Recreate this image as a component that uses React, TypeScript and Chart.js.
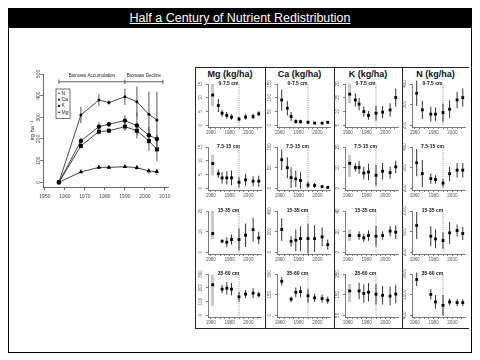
import { useEffect, useRef } from "react";
import { Chart, registerables } from "chart.js";

Chart.register(...registerables);

const FONT = "'Liberation Sans', 'DejaVu Sans', Arial, sans-serif";

// ---------------- Left chart: nutrients in tree biomass ----------------
const BIO_YEARS = [1957, 1968, 1977, 1982, 1990, 1996, 2002, 2006];
const BIO_N = [0, 311, 380, 368, 395, 372, 314, 288];
const BIO_N_ERR = [0, 38, 27, 10, 38, 70, 105, 130];
const BIO_CA = [0, 191, 257, 268, 285, 262, 217, 200];
const BIO_CA_ERR = [0, 15, 20, 12, 25, 60, 40, 20];
const BIO_K = [0, 168, 234, 238, 257, 238, 191, 152];
const BIO_K_ERR = [0, 12, 15, 12, 20, 20, 45, 55];
const BIO_MG = [0, 48, 69, 69, 72, 68, 52, 49];
const BIO_MG_ERR = [0, 5, 5, 4, 6, 10, 12, 14];
const BIO_Y_TICKS = [0, 100, 200, 300, 400, 500];
const BIO_X_TICKS = [1950, 1960, 1970, 1980, 1990, 2000, 2010];
const PHASES = ["Biomass Accumulation", "Biomass Decline"];
const PHASE_BOUNDS = [1957, 1990, 2009];
const BRACKET_LEVEL = 464;

// ---------------- Right grid: soil nutrients by depth ----------------
const SOIL_YEARS = [1962, 1968, 1972, 1977, 1982, 1990, 1997, 2005, 2011];
const NUTRIENTS = ["Mg (kg/ha)", "Ca (kg/ha)", "K (kg/ha)", "N (kg/ha)"];
const DEPTHS = ["0-7.5 cm", "7.5-15 cm", "15-35 cm", "35-60 cm"];
const SOIL_X_TICKS = [1960, 1965, 1970, 1975, 1980, 1985, 1990, 1995, 2000, 2005, 2010];
const SOIL_X_LABELS = [1960, 1980, 2000];
const HARVEST_YEAR = 1990;

const MG_0 = [11.0, 7.2, 4.4, 3.6, 3.0, 2.3, 3.0, 3.2, 4.2];
const MG_0_ERR = [0, 2.4, 1.3, 1.2, 1.0, 0.8, 1.0, 1.0, 0.9];
const MG_0_RANGE = [6.8, 15];
const MG_0_TICKS = [0, 5, 10, 15];
const MG_1 = [9.0, 5.3, 3.8, 3.8, 3.8, 2.2, 3.1, 2.6, 2.6];
const MG_1_ERR = [0, 1.5, 2.0, 2.4, 2.7, 1.8, 2.2, 1.8, 2.0];
const MG_1_RANGE = [4.7, 12.1];
const MG_1_TICKS = [0, 5, 10, 15];
const MG_2 = [9.1, null, 5.4, 4.9, 6.2, 6.2, 8.3, 11.0, 7.0];
const MG_2_ERR = [0, 0, 0.8, 2.4, 2.4, 5.3, 5.7, 5.7, 3.0];
const MG_2_RANGE = [6.2, 20];
const MG_2_TICKS = [0, 10, 20];
const MG_3 = [222, null, 190, 197, 190, 134, 154, 161, 149];
const MG_3_ERR = [0, 0, 30, 45, 45, 35, 30, 35, 20];
const MG_3_RANGE = [68, 295];
const MG_3_TICKS = [0, 100, 200, 300];

const CA_0 = [92, 62, 32, 14, 13, 11, 8, 8, 11];
const CA_0_ERR = [38, 26, 16, 8, 7, 5, 4, 4, 4];
const CA_0_TICKS = [0, 50, 100, 150];
const CA_1 = [69, 50, 26, 23, 19, 8, 7, 4, 2.5];
const CA_1_ERR = [25, 25, 25, 20, 20, 8, 6, 4, 3];
const CA_1_TICKS = [0, 50, 100];
const CA_2 = [221, null, 107, 117, 133, 133, 133, 150, 75];
const CA_2_ERR = [110, 0, 50, 105, 120, 143, 130, 90, 50];
const CA_2_TICKS = [0, 200, 400];
const CA_3 = [247, null, 117, 167, 172, 142, 127, 122, 110];
const CA_3_ERR = [30, 0, 20, 35, 40, 50, 30, 30, 25];
const CA_3_TICKS = [0, 150, 300];

const K_0 = [16.3, 14.2, 12.7, 10.0, 8.6, 9.4, 9.8, 10.6, 15.1];
const K_0_ERR = [0, 2.4, 2.2, 1.8, 1.6, 2.7, 2.2, 2.4, 3.3];
const K_0_RANGE = [13, 20.2];
const K_0_TICKS = [5, 10, 15, 20];
const K_1 = [12.1, 10.1, 10.1, 7.4, 7.9, 6.3, 8.3, 7.6, 10.4];
const K_1_ERR = [0, 2, 3, 3, 4, 5, 4, 3, 3];
const K_1_RANGE = [5.5, 16.3];
const K_1_TICKS = [0, 10, 20];
const K_2 = [16.3, null, 16.3, 14, 16.3, 15.6, 16.3, 20.5, 19.5];
const K_2_ERR = [0, 0, 4, 4, 5, 10, 4, 5, 6.5];
const K_2_RANGE = [10.7, 22];
const K_2_TICKS = [0, 20, 40];
const K_3 = [168, null, 168, 156, 162, 152, 147, 143, 153];
const K_3_ERR = [0, 0, 40, 45, 45, 50, 45, 45, 45];
const K_3_RANGE = [115, 200];
const K_3_TICKS = [50, 150, 250];

const N_0 = [355, 275, null, 254, 254, 262, 278, 323, 334];
const N_0_ERR = [62, 44, 0, 36, 32, 44, 44, 40, 44];
const N_0_TICKS = [200, 300, 400];
const N_1 = [324, 271, null, 247, 243, 225, 271, 288, 288];
const N_1_ERR = [66, 66, 0, 25, 20, 20, 35, 35, 35];
const N_1_TICKS = [200, 300, 400];
const N_2 = [720, null, null, 512, 460, 428, 577, 623, 564];
const N_2_ERR = [260, 0, 0, 195, 180, 160, 210, 115, 125];
const N_2_TICKS = [200, 600, 1000];
const N_3 = [1441, null, null, 1009, 790, 691, 790, 770, 770];
const N_3_ERR = [200, 0, 0, 150, 200, 300, 100, 100, 100];
const N_3_TICKS = [400, 1000, 1600];

// table built from the arrays above: [nutrient column][depth row]
const PANELS: any[][] = [
  [
    { vals: MG_0, errs: MG_0_ERR, ticks: MG_0_TICKS, range: MG_0_RANGE },
    { vals: MG_1, errs: MG_1_ERR, ticks: MG_1_TICKS, range: MG_1_RANGE },
    { vals: MG_2, errs: MG_2_ERR, ticks: MG_2_TICKS, range: MG_2_RANGE },
    { vals: MG_3, errs: MG_3_ERR, ticks: MG_3_TICKS, range: MG_3_RANGE },
  ],
  [
    { vals: CA_0, errs: CA_0_ERR, ticks: CA_0_TICKS },
    { vals: CA_1, errs: CA_1_ERR, ticks: CA_1_TICKS },
    { vals: CA_2, errs: CA_2_ERR, ticks: CA_2_TICKS },
    { vals: CA_3, errs: CA_3_ERR, ticks: CA_3_TICKS },
  ],
  [
    { vals: K_0, errs: K_0_ERR, ticks: K_0_TICKS, range: K_0_RANGE },
    { vals: K_1, errs: K_1_ERR, ticks: K_1_TICKS, range: K_1_RANGE },
    { vals: K_2, errs: K_2_ERR, ticks: K_2_TICKS, range: K_2_RANGE },
    { vals: K_3, errs: K_3_ERR, ticks: K_3_TICKS, range: K_3_RANGE },
  ],
  [
    { vals: N_0, errs: N_0_ERR, ticks: N_0_TICKS },
    { vals: N_1, errs: N_1_ERR, ticks: N_1_TICKS },
    { vals: N_2, errs: N_2_ERR, ticks: N_2_TICKS },
    { vals: N_3, errs: N_3_ERR, ticks: N_3_TICKS },
  ],
];

// ---------------- layout ----------------
const COL_LEFT = [195, 265, 334, 402];
const COL_RIGHT = [265, 334, 402, 469];
const AXIS_X = [208, 276.5, 345, 412];
const ROW_TOP = [77, 140.3, 203.6, 266.9];
const GRID_TOP = 67;
const GRID_BOTTOM = 328;
const PANEL_W = 69;
const PANEL_H = 60;
const AXIS_GAP = 12;

function drawSymbol(ctx: CanvasRenderingContext2D, style: string, x: number, y: number, r: number) {
  ctx.beginPath();
  if (style === "rect") {
    ctx.rect(x - r, y - r, 2 * r, 2 * r);
  } else if (style === "triangle") {
    ctx.moveTo(x, y - r * 1.2);
    ctx.lineTo(x + r * 1.1, y + r * 0.8);
    ctx.lineTo(x - r * 1.1, y + r * 0.8);
    ctx.closePath();
  } else {
    ctx.arc(x, y, r, 0, Math.PI * 2);
  }
  ctx.fill();
}

const legendBoxPlugin = {
  id: "legendBox",
  afterDraw(chart: any) {
    const { ctx, chartArea } = chart;
    const x0 = chartArea.left + 12.7;
    const y0 = chartArea.top + 15;
    ctx.save();
    ctx.strokeStyle = "#333";
    ctx.lineWidth = 0.7;
    ctx.strokeRect(x0, y0, 14, 29.5);
    const items = chart.data.datasets.filter((d: any) => d.type === "line" && !String(d.label).startsWith("_"));
    ctx.font = `5px ${FONT}`;
    ctx.textBaseline = "middle";
    ctx.textAlign = "left";
    ctx.fillStyle = "#222";
    items.forEach((d: any, i: number) => {
      const cy = y0 + 4.3 + i * 6.3;
      const r = d.pointStyle === "circle" ? (i === 0 ? 0.8 : 1.1) : 1.1;
      drawSymbol(ctx, d.pointStyle, x0 + 3, cy, r);
      ctx.fillText(d.label, x0 + 5.6, cy);
    });
    ctx.restore();
  },
};

const phaseLabelPlugin = {
  id: "phaseLabels",
  afterDatasetsDraw(chart: any) {
    const { ctx } = chart;
    const xs = chart.scales.x;
    const ys = chart.scales.y;
    ctx.save();
    ctx.font = `4.6px ${FONT}`;
    ctx.textAlign = "center";
    ctx.textBaseline = "middle";
    ctx.fillStyle = "#222";
    PHASES.forEach((p, i) => {
      const cx = xs.getPixelForValue((PHASE_BOUNDS[i] + PHASE_BOUNDS[i + 1]) / 2);
      ctx.fillText(p, cx, ys.getPixelForValue(BRACKET_LEVEL + 26));
    });
    ctx.restore();
  },
};

function errorBarData(years: number[], vals: any[], errs: number[]) {
  const out: any[] = [];
  years.forEach((x, i) => {
    const v = vals[i];
    const e = errs[i];
    if (v == null || !e) return;
    out.push({ x, y: [v - e, v + e] });
  });
  return out;
}

function biomassConfig(): any {
  const series = [
    { label: "N", vals: BIO_N, errs: BIO_N_ERR, style: "circle", r: 1.5 },
    { label: "Ca", vals: BIO_CA, errs: BIO_CA_ERR, style: "circle", r: 2.2 },
    { label: "K", vals: BIO_K, errs: BIO_K_ERR, style: "rect", r: 2.8 },
    { label: "Mg", vals: BIO_MG, errs: BIO_MG_ERR, style: "triangle", r: 2.6 },
  ];
  const cap = 10;
  const [b0, b1, b2] = PHASE_BOUNDS;
  const bracket = [
    { x: b0, y: BRACKET_LEVEL - cap }, { x: b0, y: BRACKET_LEVEL + cap }, { x: b0, y: null },
    { x: b0, y: BRACKET_LEVEL }, { x: b2, y: BRACKET_LEVEL }, { x: b2, y: null },
    { x: b1, y: BRACKET_LEVEL - cap }, { x: b1, y: BRACKET_LEVEL + cap }, { x: b1, y: null },
    { x: b2, y: BRACKET_LEVEL - cap }, { x: b2, y: BRACKET_LEVEL + cap },
  ];
  const datasets: any[] = [
    {
      type: "line", label: "_bracket", data: bracket, borderColor: "#333", borderWidth: 0.8,
      pointRadius: 0, spanGaps: false, order: 6, clip: false,
    },
  ];
  series.forEach((s) => {
    datasets.push({
      type: "bar", label: "_err", data: errorBarData(BIO_YEARS, s.vals, s.errs),
      backgroundColor: "#555", barThickness: 1, maxBarThickness: 1, inflateAmount: 0,
      grouped: false, order: 5, clip: false,
    });
  });
  series.forEach((s) => {
    datasets.push({
      type: "line", label: s.label, data: BIO_YEARS.map((x, i) => ({ x, y: s.vals[i] })),
      borderColor: "#333", borderWidth: 0.9, pointStyle: s.style, pointRadius: s.r,
      pointBackgroundColor: "#000", pointBorderColor: "#000", pointBorderWidth: 0, order: 1, clip: false,
    });
  });
  return {
    type: "scatter",
    data: { datasets },
    plugins: [legendBoxPlugin, phaseLabelPlugin],
    options: {
      animation: false,
      responsive: false,
      devicePixelRatio: 1,
      layout: { padding: { top: 8, right: 4.3, bottom: 0, left: 0 } },
      plugins: { legend: { display: false }, tooltip: { enabled: false } },
      scales: {
        x: {
          type: "linear", min: 1949.2, max: 2012, offset: false,
          grid: { drawOnChartArea: false, tickLength: 3, color: "#444", lineWidth: 0.8, offset: false },
          border: { color: "#444", width: 0.8 },
          ticks: {
            autoSkip: false, maxRotation: 0, font: { family: FONT, size: 5 }, color: "#444", padding: 3.4,
            callback: (v: any) => String(v),
          },
          afterBuildTicks: (s: any) => { s.ticks = BIO_X_TICKS.map((v) => ({ value: v })); },
          afterFit: (s: any) => { s.height = 18.7; },
        },
        y: {
          type: "linear", min: -23, max: 500, beginAtZero: false,
          grid: { drawOnChartArea: false, tickLength: 3, color: "#444", lineWidth: 0.8 },
          border: { color: "#444", width: 0.8 },
          ticks: {
            autoSkip: false, minRotation: 90, maxRotation: 90, crossAlign: "center",
            font: { family: FONT, size: 5 }, color: "#444", padding: -2.2,
            callback: (v: any) => String(v),
          },
          title: { display: true, text: "kg ha\u207B\u00B9", font: { family: FONT, size: 6 }, color: "#333", padding: { top: 4.4, bottom: 0 } },
          afterBuildTicks: (s: any) => { s.ticks = BIO_Y_TICKS.map((v) => ({ value: v })); },
          afterFit: (s: any) => { s.width = 19.3; },
        },
      },
    },
  };
}

function soilConfig(title: string, p: any): any {
  const ticks: number[] = p.ticks;
  const t0 = ticks[0];
  const t1 = ticks[ticks.length - 1];
  const span = t1 - t0;
  const fs = 4.6;
  const maxLen = Math.max(...ticks.map((t) => String(t).length));
  const yPad = 5.5 - (maxLen * 0.556 * fs) / 2;
  const pts: any[] = [];
  SOIL_YEARS.forEach((x, i) => {
    if (p.vals[i] != null) pts.push({ x, y: p.vals[i] });
  });
  const datasets: any[] = [
    {
      type: "line", data: [{ x: HARVEST_YEAR, y: t0 }, { x: HARVEST_YEAR, y: t1 }],
      borderColor: "#777", borderWidth: 0.8, borderDash: [1, 1.2], pointRadius: 0, order: 5, clip: false,
    },
  ];
  if (p.range) {
    datasets.push({
      type: "bar", data: [{ x: SOIL_YEARS[0], y: p.range }], backgroundColor: "#c8c8c8",
      borderColor: "#8a8a8a", borderWidth: 0.6, barThickness: 3, maxBarThickness: 3, inflateAmount: 0,
      grouped: false, order: 4, clip: false,
    });
  }
  datasets.push({
    type: "bar", data: errorBarData(SOIL_YEARS, p.vals, p.errs), backgroundColor: "#333",
    barThickness: 1, maxBarThickness: 1, inflateAmount: 0, grouped: false, order: 3, clip: false,
  });
  datasets.push({
    type: "scatter", data: pts, pointStyle: "rect", pointRadius: 2, backgroundColor: "#000",
    borderWidth: 0, order: 1, clip: false,
  });
  return {
    type: "scatter",
    data: { datasets },
    options: {
      animation: false,
      responsive: false,
      devicePixelRatio: 1,
      layout: { padding: { top: 0, right: 4, bottom: 0, left: 0 } },
      plugins: {
        legend: { display: false },
        tooltip: { enabled: false },
        title: {
          display: true, text: title, color: "#111",
          font: { family: FONT, size: 5, weight: "bold" }, padding: { top: 4, bottom: -3 },
        },
      },
      scales: {
        x: {
          type: "linear", min: 1957, max: 2013.4, offset: false,
          grid: { drawOnChartArea: false, tickLength: 2, color: "#444", lineWidth: 0.7, offset: false },
          border: { color: "#444", width: 0.7 },
          ticks: {
            autoSkip: false, maxRotation: 0, font: { family: FONT, size: fs }, color: "#555", padding: 0.8,
            callback: (v: any) => (SOIL_X_LABELS.includes(v) ? String(v) : ""),
          },
          afterBuildTicks: (s: any) => { s.ticks = SOIL_X_TICKS.map((v) => ({ value: v })); },
          afterFit: (s: any) => { s.height = 10; },
        },
        y: {
          type: "linear", min: t0 - 0.04 * span, max: t1, beginAtZero: false,
          grid: { drawOnChartArea: false, tickLength: 2, color: "#444", lineWidth: 0.7 },
          border: { color: "#444", width: 0.7 },
          ticks: {
            autoSkip: false, minRotation: 90, maxRotation: 90, crossAlign: "center",
            font: { family: FONT, size: fs }, color: "#555", padding: yPad,
            callback: (v: any) => String(v),
          },
          afterBuildTicks: (s: any) => { s.ticks = ticks.map((v) => ({ value: v })); },
          afterFit: (s: any) => { s.width = AXIS_GAP; },
        },
      },
    },
  };
}

function ChartCanvas({ config, left, top, width, height }: any) {
  const ref = useRef<HTMLCanvasElement>(null);
  useEffect(() => {
    const chart = new Chart(ref.current as HTMLCanvasElement, config());
    return () => chart.destroy();
  }, []);
  return (
    <canvas
      ref={ref}
      width={width}
      height={height}
      style={{ position: "absolute", left, top, width, height }}
    />
  );
}

const line = (left: number, top: number, width: number, height: number, key: string) => (
  <div key={key} style={{ position: "absolute", left, top, width, height, background: "#222" }} />
);

export default function App() {
  const gridLines = [
    line(COL_LEFT[0], GRID_TOP, COL_RIGHT[3] - COL_LEFT[0], 1, "top"),
    line(COL_LEFT[0], GRID_BOTTOM, COL_RIGHT[3] - COL_LEFT[0], 1, "bottom"),
    ...COL_LEFT.map((x, i) => line(x, GRID_TOP, 1, GRID_BOTTOM - GRID_TOP, "v" + i)),
  ];
  return (
    <div style={{ position: "fixed", left: 0, top: 0, width: 480, height: 360, background: "#fff", overflow: "hidden" }}>
      <div
        style={{
          position: "absolute", left: 8, top: 8, width: 464, height: 20.3, background: "#000",
          color: "#fff", fontFamily: FONT, fontSize: 12.5, lineHeight: "20.3px", textAlign: "center",
        }}
      >
        <span style={{ textDecoration: "underline" }}>Half a Century of Nutrient Redistribution</span>
      </div>
      <div
        style={{
          position: "absolute", left: 8, top: 8, width: 464, height: 344.5,
          border: "1.5px solid #000", boxSizing: "border-box",
        }}
      />
      <ChartCanvas config={biomassConfig} left={24} top={66} width={150} height={140} />
      {gridLines}
      {NUTRIENTS.map((n, i) => (
        <div
          key={n}
          style={{
            position: "absolute", left: COL_LEFT[i], width: COL_RIGHT[i] - COL_LEFT[i], top: 68, height: 12,
            lineHeight: "12px", textAlign: "center", fontFamily: FONT, fontWeight: "bold", fontSize: 9, color: "#111",
          }}
        >
          {n}
        </div>
      ))}
      {PANELS.map((col, ci) =>
        col.map((p, ri) => (
          <ChartCanvas
            key={ci + "-" + ri}
            config={() => soilConfig(DEPTHS[ri], p)}
            left={AXIS_X[ci] - AXIS_GAP}
            top={ROW_TOP[ri]}
            width={PANEL_W}
            height={PANEL_H}
          />
        ))
      )}
    </div>
  );
}
